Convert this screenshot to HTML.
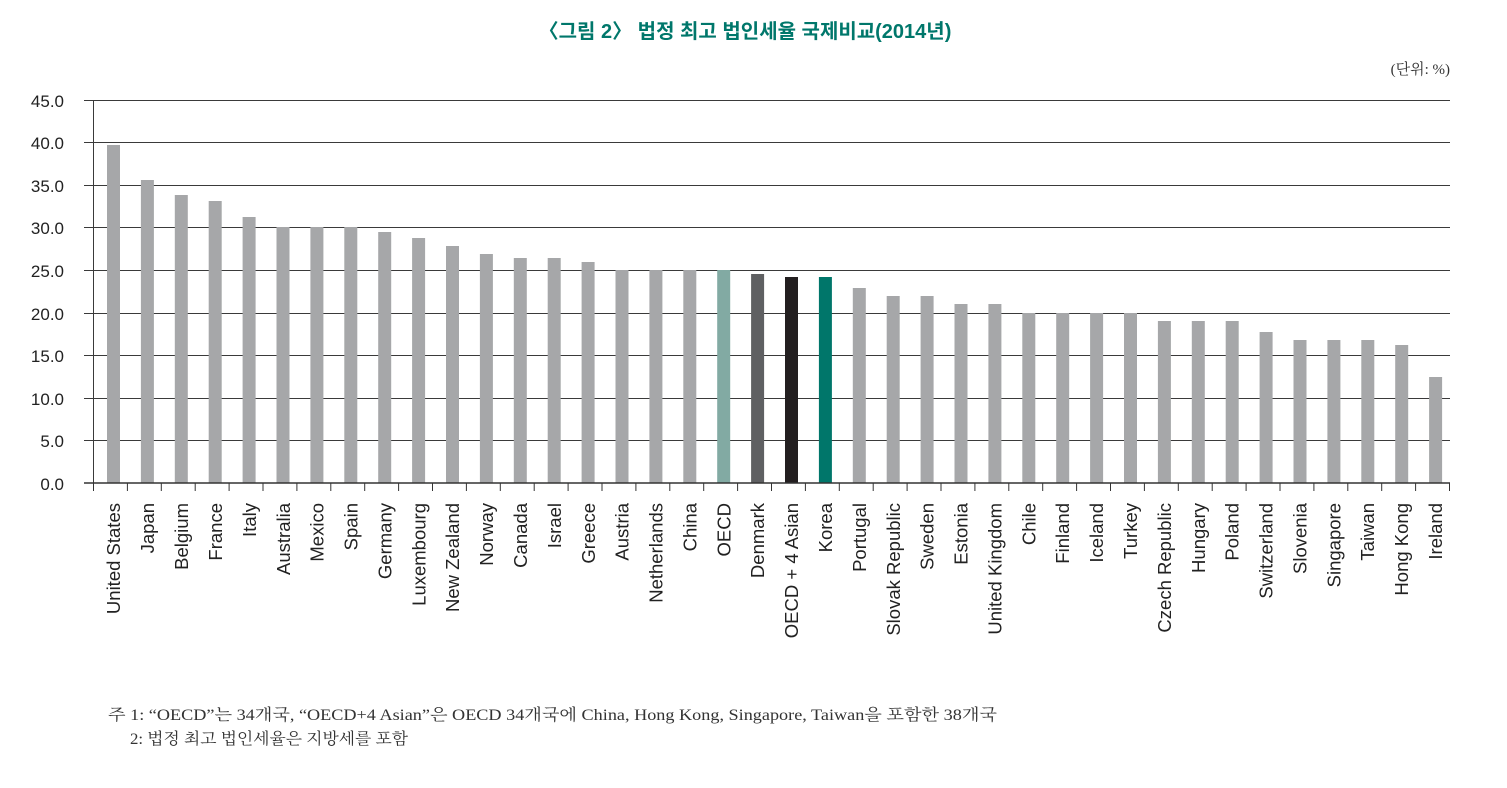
<!DOCTYPE html>
<html><head><meta charset="utf-8"><style>
html,body{margin:0;padding:0;background:#fff;}
svg{display:block;}
.t{font-family:"Liberation Sans","Noto Sans CJK KR",sans-serif;}
.s{font-family:"Liberation Serif","Noto Serif CJK SC","Noto Sans CJK KR",serif;}
</style></head><body>
<svg width="1507" height="788" xmlns="http://www.w3.org/2000/svg">
<text x="745" y="38" text-anchor="middle" class="t" font-size="20" font-weight="bold" fill="#00776b">〈그림 2〉 법정 최고 법인세율 국제비교(2014년)</text>
<text x="1450" y="74" text-anchor="end" class="s" font-size="15" fill="#333">(단위: %)</text>
<g stroke="#3a3a3a" stroke-width="1">
<line x1="84" y1="100.5" x2="1450" y2="100.5"/>
<line x1="84" y1="142.5" x2="1450" y2="142.5"/>
<line x1="84" y1="185.5" x2="1450" y2="185.5"/>
<line x1="84" y1="227.5" x2="1450" y2="227.5"/>
<line x1="84" y1="270.5" x2="1450" y2="270.5"/>
<line x1="84" y1="313.5" x2="1450" y2="313.5"/>
<line x1="84" y1="355.5" x2="1450" y2="355.5"/>
<line x1="84" y1="398.5" x2="1450" y2="398.5"/>
<line x1="84" y1="440.5" x2="1450" y2="440.5"/>
<line x1="93.5" y1="100" x2="93.5" y2="483"/>
</g>
<g class="t" font-size="17" fill="#222" text-anchor="end">
<text x="64" y="107">45.0</text><text x="64" y="149">40.0</text><text x="64" y="192">35.0</text>
<text x="64" y="234">30.0</text><text x="64" y="277">25.0</text><text x="64" y="320">20.0</text>
<text x="64" y="362">15.0</text><text x="64" y="405">10.0</text><text x="64" y="447">5.0</text>
<text x="64" y="490">0.0</text>
</g>
<g fill="#a6a7a9">
<rect x="107" y="145" width="13" height="338"/>
<rect x="140.9" y="180" width="13" height="303"/>
<rect x="174.8" y="195" width="13" height="288"/>
<rect x="208.7" y="201" width="13" height="282"/>
<rect x="242.6" y="217" width="13" height="266"/>
<rect x="276.5" y="227" width="13" height="256"/>
<rect x="310.4" y="227" width="13" height="256"/>
<rect x="344.3" y="227" width="13" height="256"/>
<rect x="378.2" y="232" width="13" height="251"/>
<rect x="412.1" y="238" width="13" height="245"/>
<rect x="446" y="246" width="13" height="237"/>
<rect x="479.9" y="254" width="13" height="229"/>
<rect x="513.8" y="258" width="13" height="225"/>
<rect x="547.7" y="258" width="13" height="225"/>
<rect x="581.6" y="262" width="13" height="221"/>
<rect x="615.5" y="270" width="13" height="213"/>
<rect x="649.4" y="270" width="13" height="213"/>
<rect x="683.3" y="270" width="13" height="213"/>
<rect x="717.2" y="270" width="13" height="213" fill="#82aaa3"/>
<rect x="751.1" y="274" width="13" height="209" fill="#5f6062"/>
<rect x="785" y="277" width="13" height="206" fill="#231f20"/>
<rect x="818.9" y="277" width="13" height="206" fill="#00766a"/>
<rect x="852.8" y="288" width="13" height="195"/>
<rect x="886.7" y="296" width="13" height="187"/>
<rect x="920.6" y="296" width="13" height="187"/>
<rect x="954.5" y="304" width="13" height="179"/>
<rect x="988.4" y="304" width="13" height="179"/>
<rect x="1022.3" y="313" width="13" height="170"/>
<rect x="1056.2" y="313" width="13" height="170"/>
<rect x="1090.1" y="313" width="13" height="170"/>
<rect x="1124" y="313" width="13" height="170"/>
<rect x="1157.9" y="321" width="13" height="162"/>
<rect x="1191.8" y="321" width="13" height="162"/>
<rect x="1225.7" y="321" width="13" height="162"/>
<rect x="1259.6" y="332" width="13" height="151"/>
<rect x="1293.5" y="340" width="13" height="143"/>
<rect x="1327.4" y="340" width="13" height="143"/>
<rect x="1361.3" y="340" width="13" height="143"/>
<rect x="1395.2" y="345" width="13" height="138"/>
<rect x="1429.1" y="377" width="13" height="106"/>
</g>
<line x1="84" y1="483" x2="1450" y2="483" stroke="#333" stroke-width="1.5"/>
<g stroke="#333" stroke-width="1">
<line x1="93.5" y1="483" x2="93.5" y2="491"/><line x1="127.4" y1="483" x2="127.4" y2="491"/><line x1="161.3" y1="483" x2="161.3" y2="491"/><line x1="195.2" y1="483" x2="195.2" y2="491"/><line x1="229.1" y1="483" x2="229.1" y2="491"/><line x1="263" y1="483" x2="263" y2="491"/><line x1="296.9" y1="483" x2="296.9" y2="491"/><line x1="330.8" y1="483" x2="330.8" y2="491"/><line x1="364.7" y1="483" x2="364.7" y2="491"/><line x1="398.6" y1="483" x2="398.6" y2="491"/><line x1="432.5" y1="483" x2="432.5" y2="491"/><line x1="466.4" y1="483" x2="466.4" y2="491"/><line x1="500.3" y1="483" x2="500.3" y2="491"/><line x1="534.2" y1="483" x2="534.2" y2="491"/><line x1="568.1" y1="483" x2="568.1" y2="491"/><line x1="602" y1="483" x2="602" y2="491"/><line x1="635.9" y1="483" x2="635.9" y2="491"/><line x1="669.8" y1="483" x2="669.8" y2="491"/><line x1="703.7" y1="483" x2="703.7" y2="491"/><line x1="737.6" y1="483" x2="737.6" y2="491"/><line x1="771.5" y1="483" x2="771.5" y2="491"/><line x1="805.4" y1="483" x2="805.4" y2="491"/><line x1="839.3" y1="483" x2="839.3" y2="491"/><line x1="873.2" y1="483" x2="873.2" y2="491"/><line x1="907.1" y1="483" x2="907.1" y2="491"/><line x1="941" y1="483" x2="941" y2="491"/><line x1="974.9" y1="483" x2="974.9" y2="491"/><line x1="1008.8" y1="483" x2="1008.8" y2="491"/><line x1="1042.7" y1="483" x2="1042.7" y2="491"/><line x1="1076.6" y1="483" x2="1076.6" y2="491"/><line x1="1110.5" y1="483" x2="1110.5" y2="491"/><line x1="1144.4" y1="483" x2="1144.4" y2="491"/><line x1="1178.3" y1="483" x2="1178.3" y2="491"/><line x1="1212.2" y1="483" x2="1212.2" y2="491"/><line x1="1246.1" y1="483" x2="1246.1" y2="491"/><line x1="1280" y1="483" x2="1280" y2="491"/><line x1="1313.9" y1="483" x2="1313.9" y2="491"/><line x1="1347.8" y1="483" x2="1347.8" y2="491"/><line x1="1381.7" y1="483" x2="1381.7" y2="491"/><line x1="1415.6" y1="483" x2="1415.6" y2="491"/><line x1="1449.5" y1="483" x2="1449.5" y2="491"/>
</g>
<g class="t" font-size="18.5" fill="#222" text-anchor="end">
<text transform="translate(120,503) rotate(-90)">United States</text>
<text transform="translate(154,503) rotate(-90)">Japan</text>
<text transform="translate(188,503) rotate(-90)">Belgium</text>
<text transform="translate(222,503) rotate(-90)">France</text>
<text transform="translate(256,503) rotate(-90)">Italy</text>
<text transform="translate(290,503) rotate(-90)">Australia</text>
<text transform="translate(323.5,503) rotate(-90)">Mexico</text>
<text transform="translate(357.5,503) rotate(-90)">Spain</text>
<text transform="translate(391.5,503) rotate(-90)">Germany</text>
<text transform="translate(425.5,503) rotate(-90)">Luxembourg</text>
<text transform="translate(459,503) rotate(-90)">New Zealand</text>
<text transform="translate(493,503) rotate(-90)">Norway</text>
<text transform="translate(527,503) rotate(-90)">Canada</text>
<text transform="translate(561,503) rotate(-90)">Israel</text>
<text transform="translate(595,503) rotate(-90)">Greece</text>
<text transform="translate(628.5,503) rotate(-90)">Austria</text>
<text transform="translate(662.5,503) rotate(-90)">Netherlands</text>
<text transform="translate(696.5,503) rotate(-90)">China</text>
<text transform="translate(730.5,503) rotate(-90)">OECD</text>
<text transform="translate(764,503) rotate(-90)">Denmark</text>
<text transform="translate(798,503) rotate(-90)">OECD + 4 Asian</text>
<text transform="translate(832,503) rotate(-90)">Korea</text>
<text transform="translate(866,503) rotate(-90)">Portugal</text>
<text transform="translate(900,503) rotate(-90)">Slovak Republic</text>
<text transform="translate(933.5,503) rotate(-90)">Sweden</text>
<text transform="translate(967.5,503) rotate(-90)">Estonia</text>
<text transform="translate(1001.5,503) rotate(-90)">United Kingdom</text>
<text transform="translate(1035.5,503) rotate(-90)">Chile</text>
<text transform="translate(1069,503) rotate(-90)">Finland</text>
<text transform="translate(1103,503) rotate(-90)">Iceland</text>
<text transform="translate(1137,503) rotate(-90)">Turkey</text>
<text transform="translate(1171,503) rotate(-90)">Czech Republic</text>
<text transform="translate(1205,503) rotate(-90)">Hungary</text>
<text transform="translate(1238.5,503) rotate(-90)">Poland</text>
<text transform="translate(1272.5,503) rotate(-90)">Switzerland</text>
<text transform="translate(1306.5,503) rotate(-90)">Slovenia</text>
<text transform="translate(1340.5,503) rotate(-90)">Singapore</text>
<text transform="translate(1374,503) rotate(-90)">Taiwan</text>
<text transform="translate(1408,503) rotate(-90)">Hong Kong</text>
<text transform="translate(1442,503) rotate(-90)">Ireland</text>
</g>
<text x="108" y="720" class="s" font-size="16" fill="#333" textLength="889" lengthAdjust="spacingAndGlyphs">주 1: “OECD”는 34개국, “OECD+4 Asian”은 OECD 34개국에 China, Hong Kong, Singapore, Taiwan을 포함한 38개국</text>
<text x="130" y="744" class="s" font-size="16" fill="#333" textLength="278" lengthAdjust="spacingAndGlyphs">2: 법정 최고 법인세율은 지방세를 포함</text>
</svg>
</body></html>
